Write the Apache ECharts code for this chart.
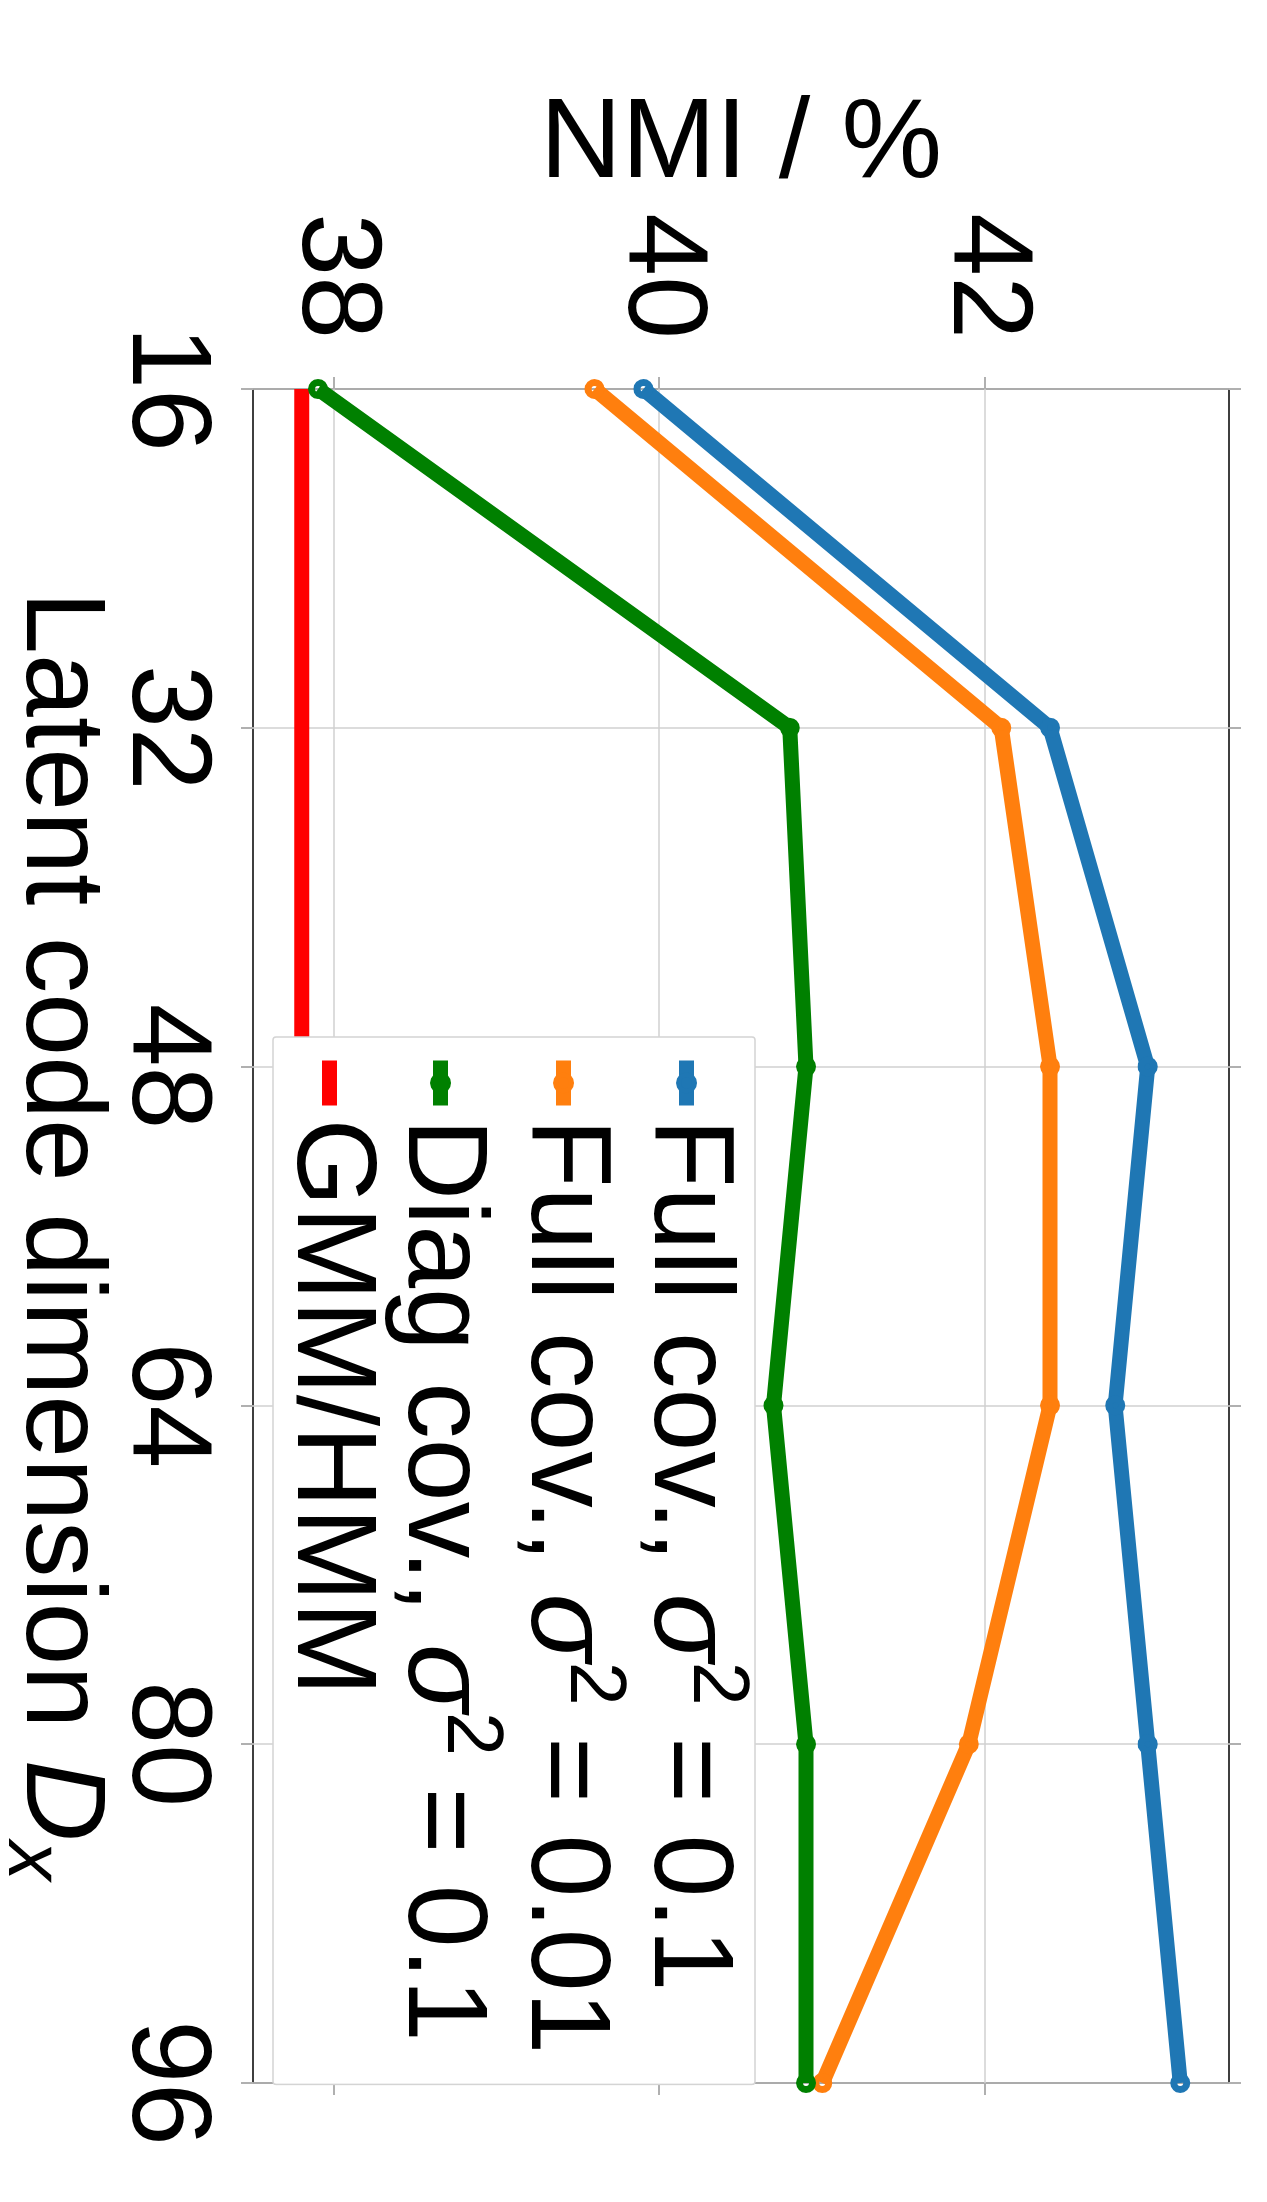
<!DOCTYPE html>
<html>
<head>
<meta charset="utf-8">
<script src="https://cdn.jsdelivr.net/npm/echarts@6/dist/echarts.min.js"></script>
<style>
html, body { margin: 0; padding: 0; overflow: hidden; background: #fff; }
.page { position: relative; width: 1267px; height: 2202px; overflow: hidden; }
/* the figure is drawn landscape, then turned a quarter turn clockwise */
#chart {
  position: absolute; left: 0; top: 0;
  width: 2202px; height: 1267px;
  transform-origin: 0 0;
  transform: translate(1267px, 0) rotate(90deg);
}
</style>
</head>
<body>
<div class="page"><div id="chart"></div></div>
<script>
// latent code dimension D_x
const dims = [16, 32, 48, 64, 80, 96];
// NMI / %
const fullCov01 = [39.9, 42.4, 43.0, 42.8, 43.0, 43.2];
const fullCov001 = [39.6, 42.1, 42.4, 42.4, 41.9, 41.0];
const diagCov01 = [37.9, 40.8, 40.9, 40.7, 40.9, 40.9];
const gmmHmm = [37.8, 37.8, 37.8, 37.8, 37.8, 37.8];
const nmiTicks = [38, 40, 42];
const dimTicks = [16, 32, 48, 64, 80, 96];

const names = ["Full cov., σ² = 0.1", "Full cov., σ² = 0.01", "Diag cov., σ² = 0.1", "GMM/HMM"];
const colors = ["#1f77b4", "#ff7f0e", "#008000", "#ff0000"];

const FONT = "Liberation Sans";
const FS = 113;

let myChart = echarts.init(document.getElementById("chart"), null, { renderer: "canvas" });

function lineSeries(name, values, color, marks) {
  return {
    name: name,
    type: "line",
    data: dims.map((d, i) => [d, values[i]]),
    symbol: marks ? "circle" : "none",
    symbolSize: 13,
    clip: false,
    lineStyle: { color: color, width: 15, join: "round", cap: "butt" },
    // hollow rings, the line shows through the middle
    itemStyle: { color: "rgba(0,0,0,0)", borderColor: color, borderWidth: 7 },
    emphasis: { disabled: true },
  };
}

const tickStyle = {
  show: true,
  inside: false,
  length: 12,
  lineStyle: { color: "#b0b0b0", width: 2 },
};

myChart.setOption({
  animation: false,
  backgroundColor: "#fff",
  grid: {
    left: 389,
    right: 119,
    top: 38,
    bottom: 253,
    containLabel: false,
    outerBoundsMode: "none",
    show: true,
    borderColor: "#000",
    borderWidth: 1.5,
    backgroundColor: "transparent",
  },
  legend: {
    orient: "vertical",
    left: 1037,
    top: 512,
    padding: [0, 30, 0, 16],
    itemWidth: 45,
    itemHeight: 20,
    itemGap: -14,
    selectedMode: false,
    backgroundColor: "#fff",
    borderColor: "#d4d4d4",
    borderWidth: 1.5,
    borderRadius: 3,
    lineStyle: { width: 15 },
    itemStyle: { borderWidth: 5 },
    data: [names[0], names[1], names[2], { name: names[3], itemStyle: { opacity: 0 } }],
    formatter: function (name) {
      if (name.indexOf("σ²") < 0) return "{r|" + name + "}";
      let parts = name.split("σ²");
      return "{f|" + parts[0] + "}{g|σ}{p|2}{t|" + parts[1] + "}";
    },
    textStyle: {
      color: "#000",
      fontFamily: FONT,
      fontSize: FS,
      rich: {
        f: { fontFamily: FONT, fontSize: FS, color: "#000", lineHeight: 136, padding: [0, 0, 0, 8] },
        t: { fontFamily: FONT, fontSize: FS, color: "#000", lineHeight: 136 },
        g: { fontFamily: FONT, fontSize: FS, color: "#000", lineHeight: 136, fontStyle: "italic" },
        p: { fontFamily: FONT, fontSize: 79, color: "#000", lineHeight: 136, padding: [0, 0, 58, 0] },
        r: { fontFamily: FONT, fontSize: FS, color: "#000", lineHeight: 123, padding: [0, 0, 0, 8] },
      },
    },
  },
  xAxis: [
    {
      type: "value",
      position: "bottom",
      min: 16,
      max: 96,
      interval: 16,
      name: "{a|Latent code dimension }{d|D}{s|x}",
      nameLocation: "middle",
      nameGap: 127,
      nameMoveOverlap: false,
      nameTextStyle: {
        color: "#000",
        fontFamily: FONT,
        fontSize: FS,
        rich: {
          a: { fontFamily: FONT, fontSize: FS, color: "#000", lineHeight: 135 },
          d: { fontFamily: FONT, fontSize: FS, color: "#000", lineHeight: 135, fontStyle: "italic" },
          s: { fontFamily: FONT, fontSize: 79, color: "#000", lineHeight: 135, fontStyle: "italic", padding: [56, 0, 0, 0] },
        },
      },
      axisLine: { show: false },
      axisTick: tickStyle,
      axisLabel: {
        color: "#000",
        fontFamily: FONT,
        fontSize: FS,
        margin: 32,
        customValues: dimTicks,
      },
      splitLine: { show: true, lineStyle: { color: "#d0d0d0", width: 1.5 } },
    },
    {
      type: "value",
      position: "top",
      min: 16,
      max: 96,
      interval: 16,
      axisLine: { show: false },
      axisTick: tickStyle,
      axisLabel: { show: false },
      splitLine: { show: false },
    },
  ],
  yAxis: [
    {
      type: "value",
      position: "left",
      min: 37.5,
      max: 43.5,
      splitNumber: 3,
      name: "NMI / %",
      nameLocation: "middle",
      nameRotate: 90,
      nameGap: 187,
      nameMoveOverlap: false,
      nameTextStyle: { color: "#000", fontFamily: FONT, fontSize: FS },
      axisLine: { show: false },
      axisTick: Object.assign({ customValues: nmiTicks }, tickStyle),
      axisLabel: {
        color: "#000",
        fontFamily: FONT,
        fontSize: FS,
        margin: 50,
        customValues: nmiTicks,
      },
      splitLine: { show: true, lineStyle: { color: "#d0d0d0", width: 1.5 } },
    },
    {
      type: "value",
      position: "right",
      min: 37.5,
      max: 43.5,
      splitNumber: 3,
      axisLine: { show: false },
      axisTick: Object.assign({ customValues: nmiTicks }, tickStyle),
      axisLabel: { show: false },
      splitLine: { show: false },
    },
  ],
  series: [
    lineSeries(names[0], fullCov01, colors[0], true),
    lineSeries(names[1], fullCov001, colors[1], true),
    lineSeries(names[2], diagCov01, colors[2], true),
    lineSeries(names[3], gmmHmm, colors[3], false),
  ],
});
</script>
</body>
</html>
